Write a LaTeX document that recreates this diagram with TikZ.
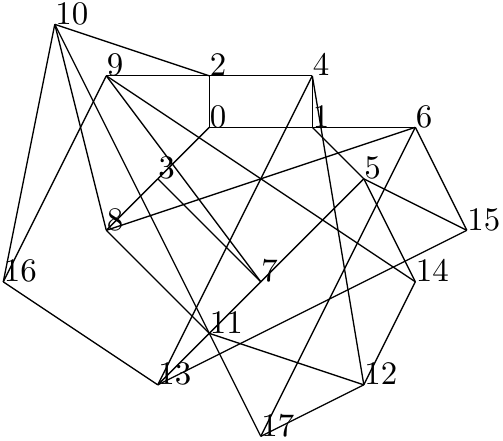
\documentclass[tikz,border=0pt]{standalone}
\begin{document}
\begin{tikzpicture}[x=0.55cm,y=0.55cm,line width=0.4pt,
  lbl/.style={anchor=base west,inner sep=0pt,font=\normalsize}]
\useasboundingbox (-0.064,-8.072) rectangle (9.703,0.472);
\coordinate (v0) at (4,-2);
\coordinate (v1) at (6,-2);
\coordinate (v2) at (4,-1);
\coordinate (v3) at (3,-3);
\coordinate (v4) at (6,-1);
\coordinate (v5) at (7,-3);
\coordinate (v6) at (8,-2);
\coordinate (v7) at (5,-5);
\coordinate (v8) at (2,-4);
\coordinate (v9) at (2,-1);
\coordinate (v10) at (1,0);
\coordinate (v11) at (4,-6);
\coordinate (v12) at (7,-7);
\coordinate (v13) at (3,-7);
\coordinate (v14) at (8,-5);
\coordinate (v15) at (9,-4);
\coordinate (v16) at (0,-5);
\coordinate (v17) at (5,-8);
\draw (v10) -- (v2);
\draw (v10) -- (v16);
\draw (v10) -- (v8);
\draw (v10) -- (v17);
\draw (v9) -- (v2);
\draw (v2) -- (v4);
\draw (v9) -- (v16);
\draw (v9) -- (v7);
\draw (v9) -- (v14);
\draw (v2) -- (v0);
\draw (v0) -- (v1);
\draw (v1) -- (v6);
\draw (v4) -- (v1);
\draw (v0) -- (v3);
\draw (v3) -- (v8);
\draw (v3) -- (v7);
\draw (v4) -- (v13);
\draw (v4) -- (v12);
\draw (v1) -- (v5);
\draw (v5) -- (v15);
\draw (v5) -- (v14);
\draw (v5) -- (v7);
\draw (v7) -- (v11);
\draw (v11) -- (v13);
\draw (v6) -- (v15);
\draw (v6) -- (v17);
\draw (v6) -- (v8);
\draw (v8) -- (v11);
\draw (v11) -- (v12);
\draw (v13) -- (v16);
\draw (v13) -- (v15);
\draw (v14) -- (v12);
\draw (v12) -- (v17);
\foreach \i in {0,...,17} {\node[lbl] (l\i) at (v\i) {\i};}
\end{tikzpicture}
\end{document}
